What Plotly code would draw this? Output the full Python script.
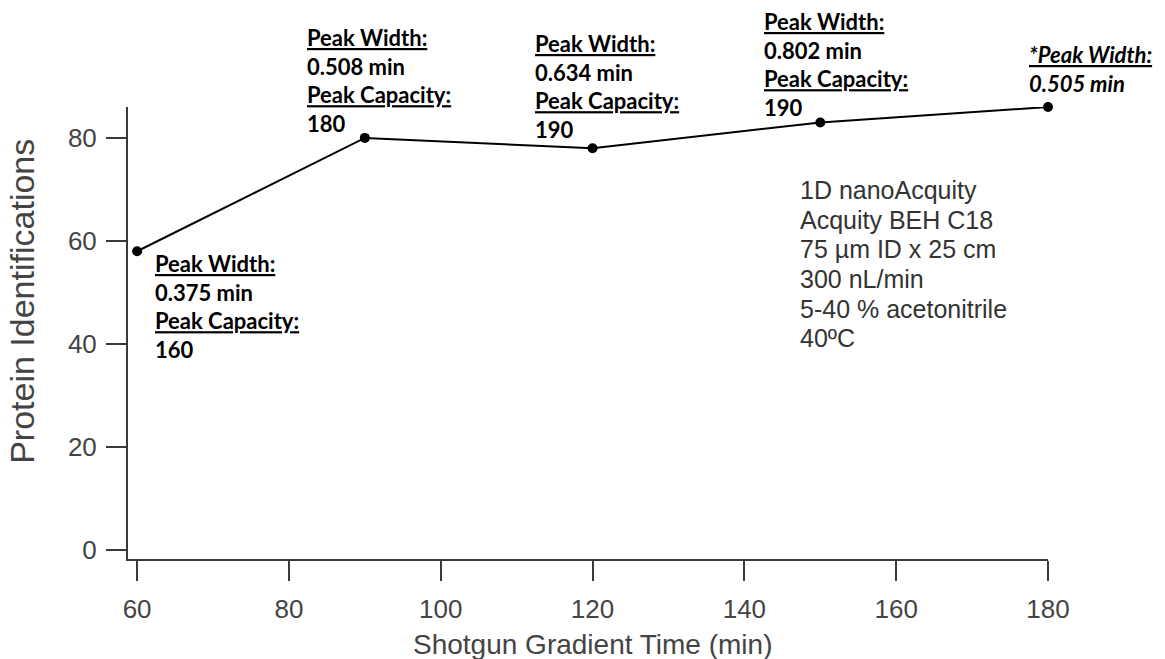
import plotly.graph_objects as go

# Gradient length (min) vs. number of protein identifications
gradient_time = [60, 90, 120, 150, 180]
protein_ids = [58, 80, 78, 83, 86]
peak_width = ["0.375", "0.508", "0.634", "0.802", "0.505"]
peak_capacity = ["160", "180", "190", "190", None]

x_ticks = [60, 80, 100, 120, 140, 160, 180]
y_ticks = [0, 20, 40, 60, 80]

setup_lines = [
    "1D nanoAcquity",
    "Acquity BEH C18",
    "75 µm ID x 25 cm",
    "300 nL/min",
    "5-40 % acetonitrile",
    "40ºC",
]

# pixel offsets (right, up) of each label block from its point
label_offsets = [(16, 3), (-60, 116), (-60, 120), (-58, 116), (-21, 68)]

AXIS_COLOR = "#3a3a3a"
TEXT_COLOR = "#444444"
SANS = "Liberation Sans, Arial, sans-serif"
BOLD = "Lato, Carlito, Calibri, sans-serif"

fig = go.Figure()
fig.add_trace(
    go.Scatter(
        x=gradient_time,
        y=protein_ids,
        mode="lines+markers",
        line=dict(color="black", width=2),
        marker=dict(color="black", size=10),
        cliponaxis=False,
        showlegend=False,
    )
)

annotations = []
for t, n, w, c, (dx, dy) in zip(gradient_time, protein_ids, peak_width,
                                peak_capacity, label_offsets):
    if c is None:
        txt = f"<i><u>*Peak Width:</u><br>{w} min</i>"
    else:
        txt = f"<u>Peak Width:</u><br>{w} min<br><u>Peak Capacity:</u><br>{c}"
    annotations.append(dict(
        x=t, y=n, xref="x", yref="y",
        text=f"<b>{txt}</b>",
        showarrow=False, xanchor="left", yanchor="top", align="left",
        xshift=dx, yshift=dy,
        font=dict(family=BOLD, size=22, color="black"),
    ))

# instrument / column conditions, one line per annotation
line_step = 29.6 / 452
for i, line in enumerate(setup_lines):
    annotations.append(dict(
        x=0.728, y=0.816 - i * line_step, xref="paper", yref="paper",
        text=line, showarrow=False, xanchor="left", yanchor="middle",
        font=dict(family=SANS, size=25, color="#333333"),
    ))

# axis titles
annotations.append(dict(
    x=-0.1152, y=0.569, xref="paper", yref="paper",
    text="Protein Identifications", textangle=-90, showarrow=False,
    xanchor="center", yanchor="middle",
    font=dict(family=SANS, size=34, color=TEXT_COLOR),
))
annotations.append(dict(
    x=0.5054, y=-0.190, xref="paper", yref="paper",
    text="Shotgun Gradient Time (min)", showarrow=False,
    xanchor="center", yanchor="middle",
    font=dict(family=SANS, size=28, color=TEXT_COLOR),
))

fig.update_layout(
    width=1165, height=659,
    margin=dict(l=128, r=117, t=107, b=100),
    paper_bgcolor="white", plot_bgcolor="white",
    annotations=annotations,
    xaxis=dict(
        range=[58.8, 180], tickvals=x_ticks, showgrid=False, zeroline=False,
        showline=True, linecolor=AXIS_COLOR, linewidth=2, automargin=False,
        ticks="outside", ticklen=20, tickwidth=2, tickcolor=AXIS_COLOR,
        ticklabelstandoff=6,
        tickfont=dict(family=SANS, size=26, color=TEXT_COLOR),
    ),
    yaxis=dict(
        range=[-1.75, 86], tickvals=y_ticks, showgrid=False, zeroline=False,
        showline=True, linecolor=AXIS_COLOR, linewidth=2, automargin=False,
        ticks="outside", ticklen=20, tickwidth=2, tickcolor=AXIS_COLOR,
        ticklabelstandoff=4,
        tickfont=dict(family=SANS, size=26, color=TEXT_COLOR),
    ),
)

fig.write_html("out.html")
